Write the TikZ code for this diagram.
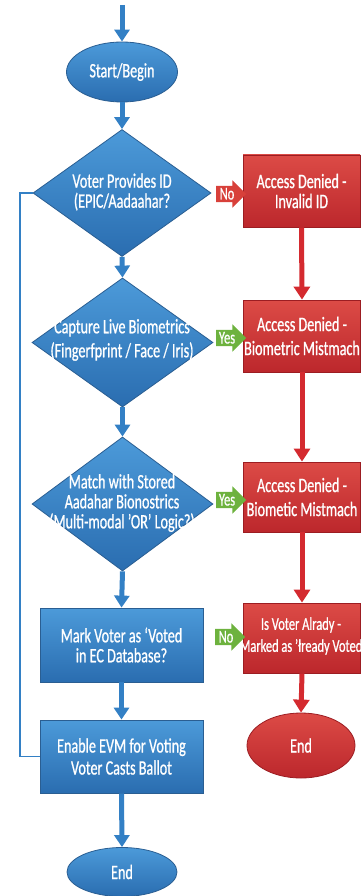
\documentclass[tikz,border=0pt]{standalone}
\usepackage{fontspec}
\setmainfont{Carlito}[FakeStretch=0.69,FakeBold=0.8]
\usetikzlibrary{shapes.geometric,shapes.arrows,arrows.meta}
\definecolor{bluetop}{HTML}{4C9AD9}
\definecolor{bluebot}{HTML}{2A6DB0}
\definecolor{blueedge}{HTML}{2A5E92}
\definecolor{bluearrow}{HTML}{3380C5}
\definecolor{redtop}{HTML}{DC4B46}
\definecolor{redbot}{HTML}{BC272C}
\definecolor{rededge}{HTML}{9C1D22}
\definecolor{redarrow}{HTML}{D42A2F}
\definecolor{greenlab}{HTML}{6DB23E}
\definecolor{redlab}{HTML}{D8403A}
\tikzset{
  txt/.style={text=white, font=\fontsize{20.5}{20}\selectfont, align=center, inner sep=0pt},
  bluefill/.style={top color=bluetop, bottom color=bluebot, draw=blueedge, line width=0.8pt},
  redfill/.style={top color=redtop, bottom color=redbot, draw=rededge, line width=0.8pt},
  decision/.style={bluefill, diamond, inner sep=0pt},
  bluebox/.style={bluefill, rectangle, inner sep=0pt, minimum width=163pt, txt, draw=blueedge},
  redbox/.style={redfill, rectangle, inner sep=0pt, minimum width=117pt, txt, draw=rededge},
  blueterm/.style={bluefill, ellipse, inner sep=0pt, txt, draw=blueedge},
  redterm/.style={redfill, ellipse, inner sep=0pt, txt, draw=rededge},
  bflow/.style={draw=bluearrow, line width=5pt, -{Triangle[width=15pt,length=12pt]}},
  rflow/.style={draw=redarrow, line width=5pt, -{Triangle[width=16pt,length=13pt]}},
  loopline/.style={draw=bluearrow, line width=1.8pt},
  tag/.style={single arrow, single arrow head extend=5.5pt, single arrow head indent=0pt,
    inner xsep=1.5pt, inner ysep=2pt, text height=11.5pt, text depth=0.5pt, minimum height=30pt,
    text=white, font=\fontsize{18}{17}\selectfont},
}
\begin{document}
\begin{tikzpicture}[x=1pt,y=-1pt]
\useasboundingbox (0,0) rectangle (362,896);
% left column
\coordinate (top) at (122,5);
\node[blueterm, minimum width=111pt, minimum height=60pt] (start) at (122,72) {Start/Begin};
\node[decision, minimum width=178pt, minimum height=127pt] (d1) at (122,193) {};
\node[txt] (d1t) at (122,192) {Voter Provides ID\\(EPIC/Aadaahar?};
\node[decision, minimum width=181pt, minimum height=129pt] (d2) at (122.5,342.5) {};
\node[txt, font=\fontsize{20.5}{24}\selectfont] (d2t) at (122,340) {Capture Live Biometrics\\(Fingerfprint / Face / Iris)};
\node[decision, minimum width=181pt, minimum height=134pt] (d3) at (122.5,504) {};
\node[txt] (d3t) at (122,503) {Match with Stored\\Aadahar Bionostrics\\(Multi-modal ’OR’ Logic?)};
\node[bluebox, minimum height=74pt] (mark) at (121.5,645) {Mark Voter as ‘Voted\\in EC Database?};
\node[bluebox, minimum height=73pt, font=\fontsize{20.5}{22}\selectfont] (enable) at (121.5,756.5) {Enable EVM for Voting\\Voter Casts Ballot};
\node[blueterm, minimum width=110pt, minimum height=49pt] (end) at (122,872) {End};
% right column
\node[redbox, minimum height=72pt] (r1) at (301.5,191) {Access Denied -\\Invalid ID};
\node[redbox, minimum height=72pt, font=\fontsize{20.5}{24}\selectfont] (r2) at (302,336) {Access Denied -\\Biometric Mistmach};
\node[redbox, minimum height=70pt, font=\fontsize{20.5}{24}\selectfont] (r3) at (302,497) {Access Denied -\\Biometic Mistmach};
\node[redfill, rectangle, inner sep=0pt, minimum width=117pt, minimum height=70pt] (r4) at (302,638) {};
\node[txt, font=\fontsize{18}{22}\selectfont] (r4t) at (301,636) {Is Voter Alrady -\\Marked as ’łready Voted};
\node[redterm, minimum width=108pt, minimum height=65pt] (rend) at (301,745.5) {End};
% blue flow
\draw[bflow] (top) -- (start.north);
\draw[bflow] (start.south) -- (d1.north);
\draw[bflow] (d1.south) -- (d2.north);
\draw[bflow] (d2.south) -- (d3.north);
\draw[bflow] (d3.south) -- (mark.north);
\draw[bflow] (mark.south) -- (enable.north);
\draw[bflow] (enable.south) -- (end.north);
\draw[loopline] (d1.west) -- (20,193) |- (enable.west);
% red flow
\draw[rflow] (r1.south) -- (r2.north);
\draw[rflow] (r2.south) -- (r3.north);
\draw[rflow] (r3.south) -- (r4.north);
\draw[rflow] (r4.south) -- (rend.north);
% tags
\node[tag, fill=redlab] (no1) at (227,194) {No};
\node[tag, fill=greenlab] (yes2) at (227,338) {Yes};
\node[tag, fill=greenlab] (yes3) at (227,500) {Yes};
\node[tag, fill=greenlab] (no4) at (226,637) {No};
\end{tikzpicture}
\end{document}
